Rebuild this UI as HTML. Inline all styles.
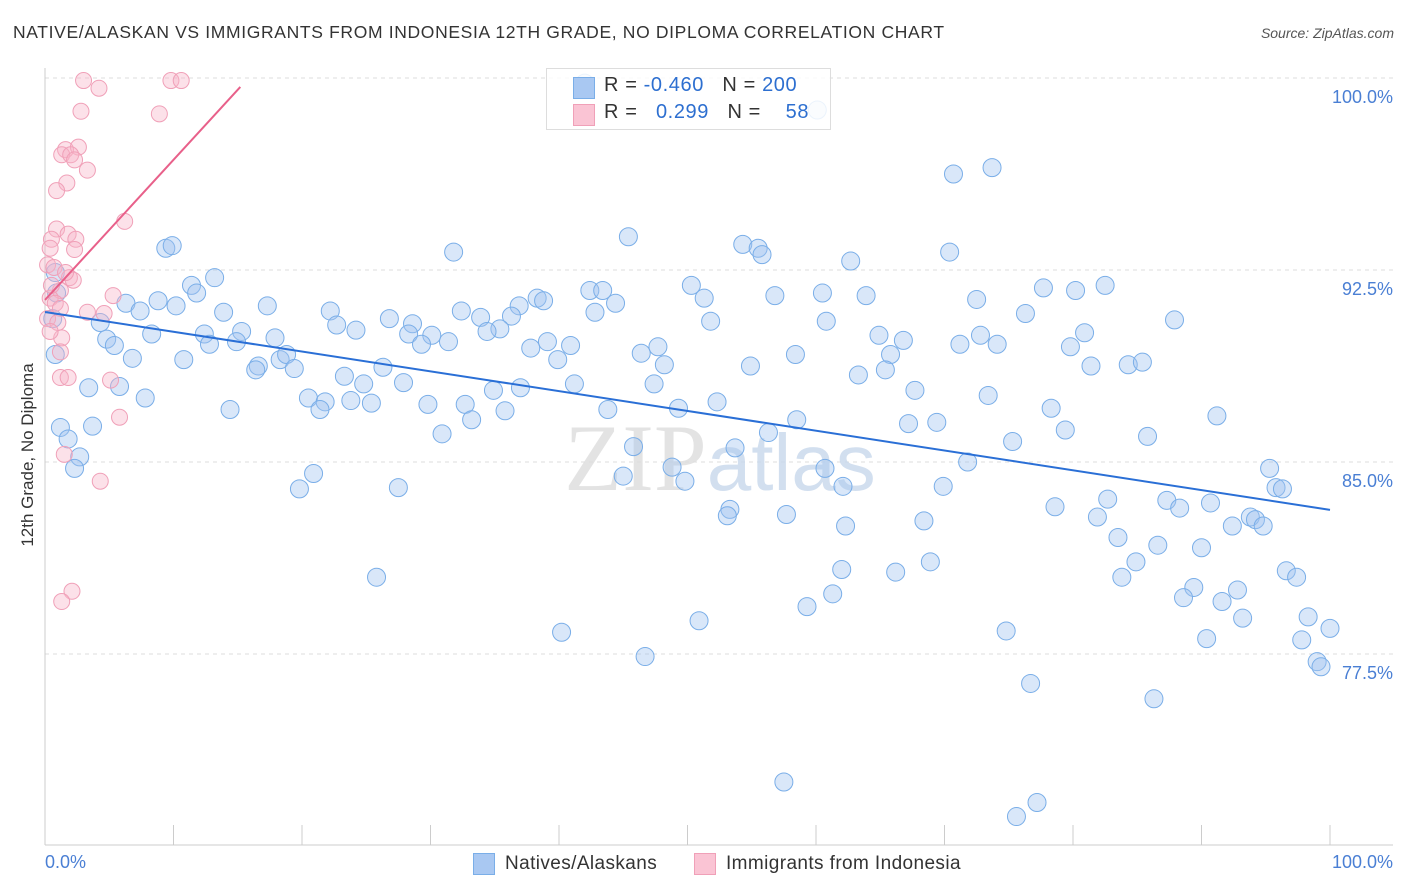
<!DOCTYPE html>
<html><head><meta charset="utf-8">
<style>
body{margin:0;background:#fff;font-family:"Liberation Sans",sans-serif;}
#wrap{position:relative;width:1406px;height:892px;overflow:hidden;}
.t{position:absolute;white-space:nowrap;}
</style></head><body>
<div id="wrap">
<div class="t" style="left:13px;top:22px;font-size:17.5px;color:#333;letter-spacing:0.65px;">NATIVE/ALASKAN VS IMMIGRANTS FROM INDONESIA 12TH GRADE, NO DIPLOMA CORRELATION CHART</div>
<div class="t" style="right:12px;top:25px;font-size:14px;color:#555;font-style:italic;">Source: ZipAtlas.com</div>
<div class="t" style="left:28px;top:455px;font-size:17px;color:#333;transform:translate(-50%,-50%) rotate(-90deg);">12th Grade, No Diploma</div>
<svg id="svg" width="1406" height="892" style="position:absolute;left:0;top:0"></svg>
<div class="t" style="left:45px;top:852px;font-size:18px;color:#4a7fd4;">0.0%</div>
<div class="t" style="right:13px;top:852px;font-size:18px;color:#4a7fd4;">100.0%</div>
<div style="position:absolute;left:546px;top:68px;width:283px;height:60px;border:1px solid #ddd;background:rgba(255,255,255,0.85);font-size:20px;letter-spacing:0.6px;">
 <div style="position:absolute;left:26px;top:8px;width:20px;height:20px;background:#a9c8f2;border:1px solid #7aaee8;"></div>
 <div class="t" style="left:57px;top:5px;color:#333;">R = <span style="color:#2d6fd0">-0.460</span>&nbsp;&nbsp;&nbsp;N = <span style="color:#2d6fd0">200</span></div>
 <div style="position:absolute;left:26px;top:35px;width:20px;height:20px;background:#fac4d4;border:1px solid #f0a0b8;"></div>
 <div class="t" style="left:57px;top:32px;color:#333;">R = &nbsp;&nbsp;<span style="color:#2d6fd0">0.299</span>&nbsp;&nbsp;&nbsp;N = &nbsp;&nbsp;&nbsp;<span style="color:#2d6fd0">58</span></div>
</div>
<div style="position:absolute;left:473px;top:853px;font-size:19px;color:#333;letter-spacing:0.4px;">
 <div style="position:absolute;left:0;top:0;width:20px;height:20px;background:#a9c8f2;border:1px solid #7aaee8;"></div>
 <div class="t" style="left:32px;top:0;">Natives/Alaskans</div>
 <div style="position:absolute;left:221px;top:0;width:20px;height:20px;background:#fac4d4;border:1px solid #f0a0b8;"></div>
 <div class="t" style="left:253px;top:0;">Immigrants from Indonesia</div>
</div>
</div>
<script>
const yTicks=[100,92.5,85,77.5];
const yTickLabels=["100.0%","92.5%","85.0%","77.5%"];
const blueX=[42.0,60.1,70.7,73.7,45.4,54.3,55.5,55.8,70.4,31.8,9.4,9.9,62.7,13.2,11.4,11.8,50.3,42.4,43.4,51.3,56.8,60.5,63.9,72.5,77.7,80.2,82.5,38.3,38.8,36.9,44.4,8.8,6.3,7.4,10.2,17.3,13.9,22.2,32.4,33.9,36.3,42.8,26.8,28.6,22.7,24.2,35.4,51.8,60.8,76.3,87.9,4.3,12.4,15.3,17.9,14.9,12.8,4.8,5.4,8.3,28.3,30.1,31.4,29.3,34.4,39.1,40.9,37.8,39.9,46.4,47.7,64.9,66.8,72.8,71.2,74.1,80.9,79.8,65.8,58.4,6.8,10.8,18.3,18.8,16.6,19.4,16.4,26.3,48.2,54.9,81.4,84.3,85.4,63.3,65.4,23.3,24.8,27.9,41.2,47.4,3.4,5.8,34.9,37.0,67.7,7.8,20.5,23.8,25.4,21.8,21.4,29.8,32.7,73.4,52.3,14.4,35.8,43.8,49.3,78.3,33.2,58.5,67.2,69.4,91.2,3.7,1.2,30.9,56.3,79.4,85.8,1.8,75.3,45.8,53.7,2.7,2.3,71.8,48.8,60.7,95.3,20.9,45.0,49.8,62.1,19.8,27.5,69.9,95.8,96.3,82.7,87.3,90.7,78.6,88.3,53.3,53.1,57.7,81.9,93.8,94.2,68.4,92.4,94.8,62.3,83.5,86.6,90.0,84.9,68.9,62.0,66.2,96.6,97.4,25.8,83.8,89.4,92.8,61.3,88.6,91.6,59.3,98.3,93.2,50.9,40.2,74.8,100.0,90.4,97.8,46.7,99.0,99.3,76.7,86.3,57.5,77.2,75.6,0.8,0.9,0.6,0.8];
const blueY=[99.8,98.75,96.25,96.5,93.8,93.5,93.35,93.1,93.2,93.2,93.35,93.45,92.85,92.2,91.9,91.6,91.9,91.7,91.7,91.4,91.5,91.6,91.5,91.35,91.8,91.7,91.9,91.4,91.3,91.1,91.2,91.3,91.2,90.9,91.1,91.1,90.85,90.9,90.9,90.65,90.7,90.85,90.6,90.4,90.35,90.15,90.2,90.5,90.5,90.8,90.55,90.45,90.0,90.1,89.85,89.7,89.6,89.8,89.55,90.0,90.0,89.95,89.7,89.6,90.1,89.7,89.55,89.45,89.0,89.25,89.5,89.95,89.75,89.95,89.6,89.6,90.05,89.5,89.2,89.2,89.05,89.0,89.0,89.2,88.75,88.65,88.6,88.7,88.8,88.75,88.75,88.8,88.9,88.4,88.6,88.35,88.05,88.1,88.05,88.05,87.9,87.95,87.8,87.9,87.8,87.5,87.5,87.4,87.3,87.35,87.05,87.25,87.25,87.6,87.35,87.05,87.0,87.05,87.1,87.1,86.65,86.65,86.5,86.55,86.8,86.4,86.35,86.1,86.15,86.25,86.0,85.9,85.8,85.6,85.55,85.2,84.75,85.0,84.8,84.75,84.75,84.55,84.45,84.25,84.05,83.95,84.0,84.05,84.0,83.95,83.55,83.5,83.4,83.25,83.2,83.15,82.9,82.95,82.85,82.85,82.75,82.7,82.5,82.5,82.5,82.05,81.75,81.65,81.1,81.1,80.8,80.7,80.75,80.5,80.5,80.5,80.1,80.0,79.85,79.7,79.55,79.35,78.95,78.9,78.8,78.35,78.4,78.5,78.1,78.05,77.4,77.2,77.0,76.35,75.75,72.5,71.7,71.15,92.4,91.6,90.6,89.2];
const pinkX=[3.0,9.8,10.6,4.2,8.9,2.8,1.6,2.6,1.3,2.0,2.3,3.3,1.7,0.9,6.2,0.9,1.8,0.5,2.4,2.3,0.4,0.2,0.7,1.9,2.2,1.2,5.3,0.4,0.8,1.2,3.3,4.6,0.2,1.0,1.3,1.2,1.2,1.8,5.1,5.8,1.5,4.3,2.1,1.3,0.4,0.5,1.6];
const pinkY=[99.9,99.9,99.9,99.6,98.6,98.7,97.2,97.3,97.0,97.0,96.8,96.4,95.9,95.6,94.4,94.1,93.9,93.7,93.7,93.3,93.35,92.7,92.6,92.2,92.1,91.7,91.5,91.4,91.2,91.0,90.85,90.8,90.6,90.45,89.85,89.3,88.3,88.3,88.2,86.75,85.3,84.25,79.95,79.55,90.1,91.9,92.4];
const blueTrend=[90.86,83.13]; // y at x=0 and x=100
const pinkTrend=[91.33,99.65,15.2]; // y at x=0, y at xEnd, xEnd
const NS="http://www.w3.org/2000/svg";
const svg=document.getElementById('svg');
const X=v=>45+v*12.85;
const Y=v=>78+(100-v)*25.6;
function mk(t,a){const e=document.createElementNS(NS,t);for(const k in a)e.setAttribute(k,a[k]);svg.appendChild(e);return e;}
yTicks.forEach((t,i)=>{
 const g=mk('line',{x1:45,x2:1393,y1:Y(t),y2:Y(t),stroke:'#ddd','stroke-dasharray':'4,4'});
 
 
 const tx=mk('text',{x:1393,y:Y(t)+25,'text-anchor':'end','font-size':18,fill:'#4a7fd4','font-family':'Liberation Sans, sans-serif'});
 tx.textContent=yTickLabels[i];
 
 
});
const ax=mk('line',{x1:45,x2:45,y1:68,y2:845,stroke:'#ccc'});


const bx=mk('line',{x1:45,x2:1393,y1:845,y2:845,stroke:'#ccc'});


for(let i=0;i<=10;i++){
 const tk=mk('line',{x1:X(i*10),x2:X(i*10),y1:825,y2:845,stroke:'#ccc'});
 
 
}
const wm=mk('text',{x:720,y:490,'text-anchor':'middle','font-size':95,fill:'#ddd','font-family':'Liberation Serif, serif','opacity':0.8});
wm.innerHTML='ZIP<tspan fill="#c8d8ec" font-family="Liberation Sans, sans-serif" font-size="80">atlas</tspan>';


blueX.forEach((x,i)=>{
 const c=mk('circle',{cx:X(x),cy:Y(blueY[i]),r:9,fill:'rgba(160,196,240,0.4)',stroke:'#7aaee8','stroke-width':1});
 
 
});
pinkX.forEach((x,i)=>{
 const c=mk('circle',{cx:X(x),cy:Y(pinkY[i]),r:8,fill:'rgba(248,180,200,0.4)',stroke:'#f0a0b8','stroke-width':1});
 
 
});
const bl=mk('line',{x1:X(0),y1:Y(blueTrend[0]),x2:X(100),y2:Y(blueTrend[1]),stroke:'#2a6fd6','stroke-width':2});


const pl=mk('line',{x1:X(0),y1:Y(pinkTrend[0]),x2:X(pinkTrend[2]),y2:Y(pinkTrend[1]),stroke:'#e8608a','stroke-width':2});


</script>
</body></html>
